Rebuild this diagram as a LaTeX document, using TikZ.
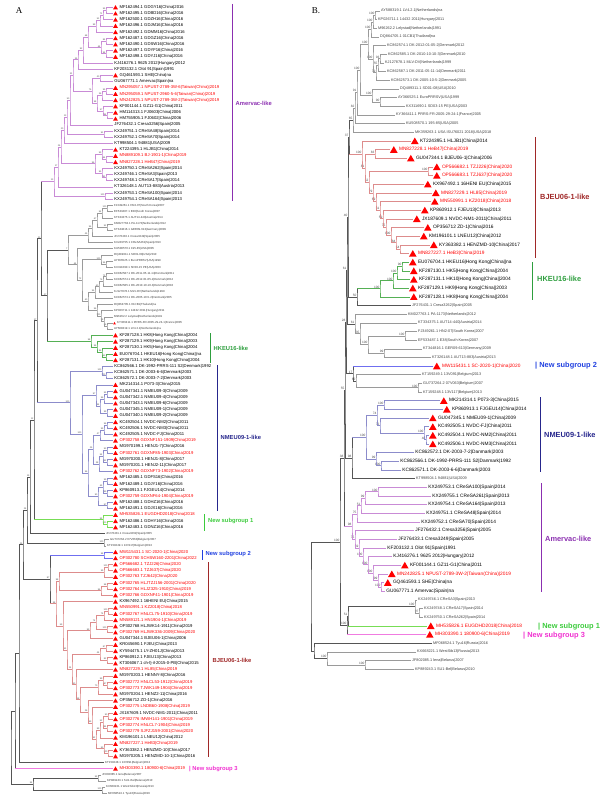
\documentclass[tikz,border=0pt]{standalone}
\usepackage{fontspec}
\setmainfont{Liberation Sans}
\newfontfamily\panelfont{Liberation Serif}
\usetikzlibrary{shapes.geometric,calc}

\definecolor{bb}{HTML}{555555}
\definecolor{grL}{HTML}{9A9A9A}
\definecolor{amerL}{HTML}{C98BD6}
\definecolor{amerD}{HTML}{8B2FB0}
\definecolor{hkL}{HTML}{55B055}
\definecolor{hkD}{HTML}{2E9E3E}
\definecolor{nmL}{HTML}{8C8CCB}
\definecolor{nmD}{HTML}{26268C}
\definecolor{s1L}{HTML}{77DD55}
\definecolor{s1D}{HTML}{3CCB3C}
\definecolor{s2L}{HTML}{6F6FF0}
\definecolor{s2D}{HTML}{2040E0}
\definecolor{bjL}{HTML}{DD8C8C}
\definecolor{bjD}{HTML}{A02828}
\definecolor{s3L}{HTML}{F07BE0}
\definecolor{s3D}{HTML}{F030D0}

\tikzset{
  br/.style={line width=0.45pt},
  bar/.style={line width=0.9pt},
  clabA/.style={anchor=west, inner sep=0pt, font=\bfseries\fontsize{5.8}{5.8}\selectfont},
  clabB/.style={anchor=west, inner sep=0pt, font=\bfseries\fontsize{7.4}{7.4}\selectfont}
}

% join two children (named) into a new inner node at x = #3
\newcommand\jn[6][bb]{%
  \path let \p1=(#4), \p2=(#5) in coordinate (#2) at (#3,{0.5*(\y1+\y2)});
  \draw[br,#1] (#4) -| (#2) |- (#5);
  \node[bs] (#2b) at (#2) {#6};}
% one leaf: name, row, tip x, kind, text
\newcommand\lf[5]{%
  \coordinate (#1) at (#3,{\ys+\dy*(#2)});
  \csname lk#4\endcsname{#1}{#5}}
\newcommand\lktr[2]{\node[tri] (#1m) at (#1) {}; \node[labt,text=red] (#1t) at (#1) {#2};}
\newcommand\lktb[2]{\node[tri] (#1m) at (#1) {}; \node[labt] (#1t) at (#1) {#2};}
\newcommand\lknb[2]{\node[lab0] (#1t) at (#1) {#2};}
\newcommand\lksm[2]{\node[sml] (#1t) at (#1) {#2};}
\newcommand\lkst[2]{\node[tri,minimum size=3.2pt,xshift=-1pt] (#1m) at (#1) {}; \node[sml,xshift=3pt] (#1t) at (#1) {#2};}

\begin{document}
\begin{tikzpicture}[x=1pt,y=-1pt]
\useasboundingbox (0,0) rectangle (601,800);

\node[font=\panelfont\fontsize{9}{9}\selectfont] (panA) at (19,11) {A};
\node[font=\panelfont\fontsize{9}{9}\selectfont] (panB) at (316,11) {B.};

% ---------------- panel A ----------------
\begin{scope}[
  tri/.style={regular polygon, regular polygon sides=3, fill=red, draw=none, inner sep=0pt, minimum size=5.6pt, xshift=2.5pt, yshift=-0.6pt},
  labt/.style={anchor=west, inner sep=0pt, xshift=6.3pt, font=\fontsize{4.2}{4.2}\selectfont},
  lab0/.style={anchor=west, inner sep=0pt, xshift=1.2pt, font=\fontsize{4.2}{4.2}\selectfont},
  sml/.style={anchor=west, inner sep=0pt, xshift=1pt, font=\fontsize{2.9}{2.9}\selectfont, text=black!75},
  bs/.style={anchor=south east, inner sep=0.3pt, font=\fontsize{2.3}{2.3}\selectfont, text=black!70}]
\def\ys{7.3}\def\dy{6.19}
\foreach \r/\x/\k/\txt in {
0/113/tb/{MF162494.1 GDGY16|China|2016},
1/113/tb/{MF162495.1 GDBD16|China|2016},
2/113/tb/{MF162500.1 GDZH16|China|2016},
3/113/tb/{MF162496.1 GDJM16|China|2016},
4/113/tb/{MF162492.1 GDMM16|China|2016},
5/113/tb/{MF162487.1 GDGZ16|China|2016},
6/113/tb/{MF162490.1 GDSW16|China|2016},
7/113/tb/{MF162497.1 GDYF16|China|2016},
8/113/tb/{MF162498.1 GDYJ16|China|2016},
9/113/nb/{KJ416276.1 9625 2012|Hungary|2012},
10/113/nb/{KF203132.1 Olot 91|Spain|1991},
11/113/tb/{GQ461593.1 SHE|China|na},
12/113/nb/{GU067771.1 Amervac|Spain|na},
13/113/tr/{MN295057.1 NPUST-2789-3W-6|Taiwan(China)|2019},
14/113/tr/{MN295059.1 NPUST-2960-5-6|Taiwan(China)|2019},
15/113/tr/{MN242825.1 NPUST-2789-3W-2|Taiwan(China)|2019},
16/113/tb/{KF001144.1 GZ11-G1|China|2011},
17/113/tb/{HM114313.1 FJ0603|China|2006},
18/113/tb/{HM755905.1 FJ0602|China|2006},
19/113/nb/{JF276432.1 Cresa3256|Spain|2005},
20/113/nb/{KX249751.1 CReSA48|Spain|2014},
21/113/nb/{KX249752.1 CReSA70|Spain|2014},
22/113/nb/{KT998504.1 94881|USA|2009},
23/113/tb/{KT224395.1 HLJB1|China|2014},
24/113/tr/{MN889109.1 BJ-1901-1|China|2019},
25/113/tr/{MN827228.1 HeB47|China|2019},
26/113/nb/{KX249750.1 CReSA262|Spain|2014},
27/113/nb/{KX249746.1 CReSA3|Spain|2013},
28/113/nb/{KX249748.1 CReSA17|Spain|2014},
29/113/nb/{KT326148.1 AUT13-883|Austria|2013},
30/113/nb/{KX249753.1 CReSA100|Spain|2014},
31/113/nb/{KX249754.1 CReSA164|Spain|2013},
32/113/sm/{FJ349261.1 HN2-07|South Korea|2007},
33/113/sm/{EF533487.1 E38|South Korea|2007},
34/113/sm/{KT334375.1 AUT14-440|Austria|2014},
35/113/sm/{KM027763.1 PA-1173|Netherlands|2012},
36/113/sm/{KT344816.1 GER09-613|Germany|2009},
37/113/sm/{JF276433.1 Cresa3249|Spain|2005},
38/113/sm/{KX249755.1 CReSA261|Spain|2013},
39/113/sm/{KU508570.1 195-85|USA|2005},
40/113/sm/{DQ489311.1 SD01-08|USA|2010},
41/113/sm/{AY366525.1 EuroPRRSV|USA|1999},
42/113/sm/{KX311690.1 SD03-15 PE|USA|2003},
43/113/sm/{KC862587.1 DK-2011-05-11-14|Denmark|2011},
44/113/sm/{KC862574.1 DK-2012-01-05-2|Denmark|2012},
45/113/sm/{KC862585.1 DK-2010-10-10-3|Denmark|2010},
46/113/sm/{KJ127878.1 MLV-DV|Netherlands|1999},
47/113/sm/{KC862573.1 DK-2005-10-5-2|Denmark|2005},
48/113/sm/{DQ864705.1 01CB1|Thailand|na},
49/113/sm/{KP026711.1 14432 2011|Hungary|2011},
50/113/sm/{M96262.2 Lelystad|Netherlands|1991},
51/113/st/{KY366411.1 PRRS-FR-2005-29-24-1|France|2005},
52/113/sm/{AY588319.1 LV4.2.1|Netherlands|na},
53/113/tb/{KF287128.1 HK8|Hong Kong|China||2004},
54/113/tb/{KF287129.1 HK9|Hong Kong|China||2003},
55/113/tb/{KF287130.1 HK5|Hong Kong|China||2004},
56/113/tb/{EU076704.1 HKEU16|Hong Kong|China||na},
57/113/tb/{KF287131.1 HK10|Hong Kong|China||2004},
58/113/nb/{KC862566.1 DK-1992-PRRS-111 S2|Denmark|1992},
59/113/nb/{KC862571.1 DK-2003-6-6|Denmark|2003},
60/113/nb/{KC862572.1 DK-2003-7-2|Denmark|2003},
61/113/tb/{MK214314.1 P073-3|China|2015},
62/113/tb/{GU047341.1 NMEU09-3|China|2009},
63/113/tb/{GU047342.1 NMEU09-4|China|2009},
64/113/tb/{GU047343.1 NMEU09-6|China|2009},
65/113/tb/{GU047345.1 NMEU09-1|China|2009},
66/113/tb/{GU047340.1 NMEU09-2|China|2009},
67/113/tb/{KC492504.1 NVDC-NM2|China|2011},
68/113/tb/{KC492506.1 NVDC-NM3|China|2011},
69/113/tb/{KC492505.1 NVDC-FJ|China|2011},
70/113/tr/{OP302758 GDXNF151-1909|China|2019},
71/113/tb/{MG970199.1 HENJ1-7|China|2016},
72/113/tr/{OP302761 GDXNF85-1903|China|2019},
73/113/tb/{MG970200.1 HENJ1-8|China|2017},
74/113/tb/{MG970201.1 HENJ2-11|China|2017},
75/113/tr/{OP302762 GDXNF73-1902|China|2019},
76/113/tb/{MF162485.1 GDFS16|China|2016},
77/113/tb/{MF162489.1 GDJY16|China|2016},
78/113/tb/{KP860913.1 FJGEU14|China|2014},
79/113/tr/{OP302759 GDXNF64-1904|China|2019},
80/113/tb/{MF162488.1 GDHZ16|China|2016},
81/113/tb/{MF162491.1 GDJX16|China|2016},
82/113/tr/{MH535826.1 EUGDHD2018|China|2018},
83/113/tb/{MF162486.1 GDHY16|China|2016},
84/113/tb/{MF162483.1 GDNZ16|China|2016},
85/105/sm/{JF276431.1 Cresa3262|Spain|2005},
86/109/sm/{GU737264.2 07V063|Belgium|2007},
87/106/sm/{KT159249.1 13V117|Belgium|2013},
88/113/tr/{MW115431.1 SC-2020-1|China|2020},
89/113/tr/{OP302780 SCHSW160-2201|China|2022},
90/113/tr/{OP566682.1 TZJ226|China|2020},
91/113/tr/{OP566683.1 TZJ637|China|2020},
92/113/tr/{OP302763 TZJ642|China|2020},
93/113/tr/{OP302765 HLJTZJ156-2001|China|2020},
94/113/tr/{OP302764 HLJZ325-1910|China|2019},
95/113/tr/{OP302766 GDXNF41-1901|China|2019},
96/113/tb/{KX967492.1 16HENI EU|China|2015},
97/113/tr/{MN550991.1 KZ2018|China|2018},
98/113/tr/{OP302767 HNLCL75-1910|China|2019},
99/113/tr/{MN589121.1 HN1904-1|China|2019},
100/113/tb/{OP302768 HLJWK14-1911|China|2019},
101/113/tr/{OP302769 HLJWK336-2009|China|2020},
102/113/tb/{GU047344.1 BJEU06-1|China|2006},
103/113/tb/{KR045690.1 FJEU|China|2013},
104/113/tb/{KY594475.1 LY-ZH01J|China|2013},
105/113/tb/{KP860912.1 FJEU13|China|2013},
106/113/tb/{KT306067.1 ch-fj-il-2015-0-PB|China|2015},
107/113/tr/{MN827229.1 HL85|China|2019},
108/113/tb/{MG970203.1 HENNY-8|China|2016},
109/113/tr/{OP302772 HNLCL53-1912|China|2019},
110/113/tr/{OP302773 TJWK149-1904|China|2019},
111/113/tb/{MG970204.1 HENZ2-11|China|2016},
112/113/tb/{OP356712 ZD-1|China|2016},
113/113/tr/{OP302775 LNDB60-1908|China|2019},
114/113/tb/{JX187609.1 NVDC-NM1-2011|China|2011},
115/113/tr/{OP302776 IMWH141-1901|China|2019},
116/113/tr/{OP302774 HNLCL7-1904|China|2019},
117/113/tr/{OP302779 SJFZJ159-2001|China|2020},
118/113/tb/{KM196101.1 LNEU12|China|2012},
119/113/tr/{MN827227.1 HeB3|China|2019},
120/113/tb/{KY363382.1 HENZMD-10|China|2017},
121/113/tb/{MG970205.1 HENZMD-10-1|China|2016},
122/104/sm/{KT159248.1 13V091|Belgium|2013},
123/113/tr/{MH303390.1 180900-6|China|2019},
124/101/sm/{JF802085.1 lena|Belarus|2007},
125/106/sm/{KP889243.1 SU1-Bel|Belarus|2010},
126/105/sm/{KX668221.1 WestSib13|Russia|2013},
127/107/sm/{MF068524.1 Tyu16|Russia|2016}}{\lf{a\r}{\r}{\x}{\k}{\txt}}

% Amervac-like
\jn[amerL]{A0x1}{106}{a0}{a1}{95}
\jn[amerL]{A0x2}{103}{A0x1}{a2}{71}
\jn[amerL]{A0x3}{100}{A0x2}{a3}{51}
\jn[amerL]{A0x4}{96}{A0x3}{a4}{99}
\jn[amerL]{A5x6}{106}{a5}{a6}{84}
\jn[amerL]{A7x8}{106}{a7}{a8}{94}
\jn[amerL]{A5x8}{101}{A5x6}{A7x8}{64}
\jn[amerL]{A0x8}{88}{A0x4}{A5x8}{68}
\jn[amerL]{A0x9}{83}{A0x8}{a9}{92}
\jn[amerL]{A0x10}{78}{A0x9}{a10}{35}
\jn[amerL]{A11x12}{100}{a11}{a12}{40}
\jn[amerL]{A13x14}{106}{a13}{a14}{95}
\jn[amerL]{A13x15}{102}{A13x14}{a15}{36}
\jn[amerL]{A17x18}{107}{a17}{a18}{94}
\jn[amerL]{A16x18}{103}{a16}{A17x18}{57}
\jn[amerL]{A13x18}{97}{A13x15}{A16x18}{98}
\jn[amerL]{A11x18}{92}{A11x12}{A13x18}{75}
\jn[amerL]{A0x18}{73}{A0x10}{A11x18}{31}
\jn[amerL]{A0x19}{70}{A0x18}{a19}{50}
\jn[amerL]{A20x21}{104}{a20}{a21}{91}
\jn[amerL]{A0x21}{67}{A0x19}{A20x21}{13}
\jn[amerL]{A0x22}{64}{A0x21}{a22}{20}
\jn[amerL]{A24x25}{106}{a24}{a25}{94}
\jn[amerL]{A23x25}{102}{a23}{A24x25}{99}
\jn[amerL]{A27x28}{106}{a27}{a28}{91}
\jn[amerL]{A26x28}{102}{a26}{A27x28}{95}
\jn[amerL]{A23x28}{95}{A23x25}{A26x28}{96}
\jn[amerL]{A0x28}{61}{A0x22}{A23x28}{26}
\jn[amerL]{A0x29}{58}{A0x28}{a29}{17}
\jn[amerL]{A30x31}{105}{a30}{a31}{100}
\jn[amerL]{Aam}{54}{A0x29}{A30x31}{13}
% grey European strains
\jn[grL]{A32x33}{107}{a32}{a33}{100}
\jn[grL]{A32x34}{102}{A32x33}{a34}{94}
\jn[grL]{A35x36}{107}{a35}{a36}{92}
\jn[grL]{A32x36}{97}{A32x34}{A35x36}{67}
\jn[grL]{A32x37}{92}{A32x36}{a37}{96}
\jn[grL]{A32x38}{88}{A32x37}{a38}{45}
\jn[grL]{A41x42}{106}{a41}{a42}{96}
\jn[grL]{A40x42}{101}{a40}{A41x42}{100}
\jn[grL]{A43x44}{106}{a43}{a44}{72}
\jn[grL]{A43x45}{103}{A43x44}{a45}{76}
\jn[grL]{A43x46}{99}{A43x45}{a46}{60}
\jn[grL]{A43x47}{95}{A43x46}{a47}{96}
\jn[grL]{A51x52}{107}{a51}{a52}{96}
\jn[grL]{A50x52}{104}{a50}{A51x52}{98}
\jn[grL]{A49x52}{101}{a49}{A50x52}{100}
\jn[grL]{A48x52}{97}{a48}{A49x52}{96}
\jn[grL]{A43x52}{88}{A43x47}{A48x52}{60}
\jn[grL]{A40x52}{82}{A40x42}{A43x52}{72}
\jn[grL]{A39x52}{77}{a39}{A40x52}{64}
\jn[grL]{Ag1}{68}{A32x38}{A39x52}{7}
% HKEU16-like
\jn[hkL]{A56x57}{106}{a56}{a57}{53}
\jn[hkL]{A55x57}{102}{a55}{A56x57}{96}
\jn[hkL]{A54x57}{97}{a54}{A55x57}{96}
\jn[hkL]{Ahk}{91}{a53}{A54x57}{98}
\jn{Agh}{47}{Ag1}{Ahk}{27}
\jn{AB1}{41}{Aam}{Agh}{23}
% NMEU09-1-like
\jn[nmL]{A59x60}{106}{a59}{a60}{100}
\jn[nmL]{A58x60}{102}{a58}{A59x60}{100}
\jn[nmL]{A62x63}{107}{a62}{a63}{95}
\jn[nmL]{A62x64}{104}{A62x63}{a64}{96}
\jn[nmL]{A65x66}{107}{a65}{a66}{99}
\jn[nmL]{A62x66}{100}{A62x64}{A65x66}{94}
\jn[nmL]{A61x66}{96}{a61}{A62x66}{97}
\jn[nmL]{A67x68}{107}{a67}{a68}{96}
\jn[nmL]{A67x69}{104}{A67x68}{a69}{99}
\jn[nmL]{A67x70}{100}{A67x69}{a70}{47}
\jn[nmL]{A71x72}{107}{a71}{a72}{93}
\jn[nmL]{A73x74}{107}{a73}{a74}{92}
\jn[nmL]{A71x74}{103}{A71x72}{A73x74}{54}
\jn[nmL]{A71x75}{99}{A71x74}{a75}{38}
\jn[nmL]{A67x75}{93}{A67x70}{A71x75}{25}
\jn[nmL]{A76x77}{107}{a76}{a77}{99}
\jn[nmL]{A78x79}{107}{a78}{a79}{99}
\jn[nmL]{A76x79}{103}{A76x77}{A78x79}{65}
\jn[nmL]{A80x81}{107}{a80}{a81}{97}
\jn[nmL]{A76x81}{98}{A76x79}{A80x81}{90}
\jn[nmL]{A67x81}{88}{A67x75}{A76x81}{96}
\jn[nmL]{A61x81}{82}{A61x66}{A67x81}{100}
\jn[nmL]{Anm}{70}{A58x60}{A61x81}{100}
\jn{AB2}{37}{AB1}{Anm}{17}
% new subgroup 1
\jn[s1L]{A83x84}{107}{a83}{a84}{100}
\jn[s1L]{Ans1}{103}{a82}{A83x84}{99}
\jn{AB3}{34}{AB2}{Ans1}{12}
\jn{AB4}{30}{AB3}{a85}{19}
\jn[grL]{A86x87}{104}{a86}{a87}{100}
\jn{AB5}{27}{AB4}{A86x87}{24}
% new subgroup 2
\jn[s2L]{Ans2}{104}{a88}{a89}{98}
% BJEU06-1-like
\jn[bjL]{A90x91}{108}{a90}{a91}{100}
\jn[bjL]{A90x92}{104}{A90x91}{a92}{99}
\jn[bjL]{A93x94}{107}{a93}{a94}{98}
\jn[bjL]{A93x95}{101}{A93x94}{a95}{96}
\jn[bjL]{A90x95}{59}{A90x92}{A93x95}{98}
\jn[bjL]{A97x98}{108}{a97}{a98}{100}
\jn[bjL]{A97x99}{104}{A97x98}{a99}{74}
\jn[bjL]{A100x101}{107}{a100}{a101}{100}
\jn[bjL]{A97x101}{96}{A97x99}{A100x101}{74}
\jn[bjL]{A97x102}{90}{A97x101}{a102}{99}
\jn[bjL]{A103x104}{106}{a103}{a104}{87}
\jn[bjL]{A105x106}{107}{a105}{a106}{82}
\jn[bjL]{A103x106}{100}{A103x104}{A105x106}{44}
\jn[bjL]{A109x110}{107}{a109}{a110}{97}
\jn[bjL]{A108x110}{103}{a108}{A109x110}{99}
\jn[bjL]{A108x111}{98}{A108x110}{a111}{70}
\jn[bjL]{A114x115}{108}{a114}{a115}{90}
\jn[bjL]{A116x117}{107}{a116}{a117}{84}
\jn[bjL]{A114x117}{103}{A114x115}{A116x117}{52}
\jn[bjL]{A114x118}{100}{A114x117}{a118}{89}
\jn[bjL]{A120x121}{108}{a120}{a121}{100}
\jn[bjL]{A119x121}{104}{a119}{A120x121}{93}
\jn[bjL]{A114x121}{96}{A114x118}{A119x121}{62}
\jn[bjL]{A113x121}{92}{a113}{A114x121}{69}
\jn[bjL]{A112x121}{88}{a112}{A113x121}{26}
\jn[bjL]{A108x121}{80}{A108x111}{A112x121}{58}
\jn[bjL]{A107x121}{76}{a107}{A108x121}{50}
\jn[bjL]{A103x121}{72}{A103x106}{A107x121}{24}
\jn[bjL]{A97x121}{67}{A97x102}{A103x121}{51}
\jn[bjL]{A96x121}{63}{a96}{A97x121}{59}
\jn[bjL]{Abj}{56}{A90x95}{A96x121}{98}
\jn{ANB}{50}{Ans2}{Abj}{87}
\jn{AB6}{23}{AB5}{ANB}{25}
\jn{AB7}{19}{AB6}{a122}{}
\jn{AB8}{15}{AB7}{a123}{}
% outgroup
\jn[grL]{A124x125}{98}{a124}{a125}{99}
\jn[grL]{A126x127}{102}{a126}{a127}{100}
\jn{Aog}{33}{A124x125}{A126x127}{94}
\jn{Aroot}{11}{AB8}{Aog}{}
% coloured stems
\draw[br,amerL] (Aam) -- (Aam -| AB1);
\draw[br,hkL] (Ahk) -- (Ahk -| Agh);
\draw[br,nmL] (Anm) -- (Anm -| AB2);
\draw[br,s1L] (Ans1) -- (Ans1 -| AB3);
\draw[br,s2L] (Ans2) -- (Ans2 -| ANB);
\draw[br,bjL] (Abj) -- (Abj -| ANB);
\draw[br,s3L] (a123) -- (a123 -| AB8);
% clade bars
\draw[bar,amerD] (232,4) -- (232,201);
\node[clabA,text=amerD] (gAmA) at (235.5,103) {Amervac-like};
\draw[bar,hkD] (210,333) -- (210,363);
\node[clabA,text=hkD] (gHkA) at (213.5,348) {HKEU16-like};
\draw[bar,nmD] (217,365) -- (217,511);
\node[clabA,text=nmD] (gNmA) at (220.5,437) {NMEU09-1-like};
\draw[bar,s1D] (204,514) -- (204,531);
\node[clabA,text=s1D] (gS1A) at (208,521) {New subgroup 1};
\draw[bar,s2D] (202,550) -- (202,560);
\node[clabA,text=s2D] (gS2A) at (205.5,554) {New subgroup 2};
\draw[bar,bjD] (208,562) -- (208,757);
\node[clabA,text=bjD] (gBjA) at (212.5,660) {BJEU06-1-like};
\node[clabA,text=s3D] (gS3A) at (189,769) {| New subgroup 3};
\end{scope}

% ---------------- panel B ----------------
\begin{scope}[
  tri/.style={regular polygon, regular polygon sides=3, fill=red, draw=none, inner sep=0pt, minimum size=8.8pt, xshift=3.8pt, yshift=-1pt},
  labt/.style={anchor=west, inner sep=0pt, xshift=8.8pt, font=\fontsize{4.8}{4.8}\selectfont},
  lab0/.style={anchor=west, inner sep=0pt, xshift=1.2pt, font=\fontsize{4.8}{4.8}\selectfont},
  sml/.style={anchor=west, inner sep=0pt, xshift=1pt, font=\fontsize{3.8}{3.8}\selectfont, text=black!75},
  bs/.style={anchor=south east, inner sep=0.3pt, font=\fontsize{3.2}{3.2}\selectfont, text=black!70}]
\def\ys{11}\def\dy{8.66}
\foreach \r/\x/\k/\txt in {
0/380/sm/{AY588319.1 LV4.2.1|Netherlands|na},
1/377/sm/{KP026711.1 14432 2011|Hungary|2011},
2/377/sm/{M96262.2 Lelystad|Netherlands|1991},
3/379/sm/{DQ864705.1 01CB1|Thailand|na},
4/386/sm/{KC862574.1 DK-2012-01-05-2|Denmark|2012},
5/387/sm/{KC862585.1 DK-2010-10-10-3|Denmark|2010},
6/384/sm/{KJ127878.1 MLV-DV|Netherlands|1999},
7/386/sm/{KC862587.1 DK-2011-05-11-14|Denmark|2011},
8/390/sm/{KC862573.1 DK-2005-10-5-2|Denmark|2005},
9/399/sm/{DQ489311.1 SD01-08|USA|2010},
10/397/sm/{AY366525.1 EuroPRRSV|USA|1999},
11/405/sm/{KX311690.1 SD03-15 PE|USA|2003},
12/395/sm/{KY366411.1 PRRS-FR-2005-29-24-1|France|2005},
13/405/sm/{KU508570.1 195-85|USA|2005},
14/414/sm/{MK359263.1 USA ISU76021 2018|USA|2018},
15/411/tb/{KT224395.1 HLJB1|China|2014},
16/390/tr/{MN827228.1 HeB47|China|2019},
17/407/tb/{GU047344.1 BJEU06-1|China|2006},
18/433/tr/{OP566682.1 TZJ226|China|2020},
19/433/tr/{OP566683.1 TZJ637|China|2020},
20/424/tb/{KX967492.1 16HENI EU|China|2015},
21/432/tr/{MN827229.1 HL85|China|2019},
22/431/tr/{MN550991.1 KZ2018|China|2018},
23/421/tb/{KP860912.1 FJEU13|China|2013},
24/413/tb/{JX187609.1 NVDC-NM1-2011|China|2011},
25/424/tb/{OP356712 ZD-1|China|2016},
26/420/tb/{KM196101.1 LNEU12|China|2012},
27/430/tb/{KY363382.1 HENZMD-10|China|2017},
28/409/tr/{MN827227.1 HeB3|China|2019},
29/409/tb/{EU076704.1 HKEU16|Hong Kong|China||na},
30/410/tb/{KF287130.1 HK5|Hong Kong|China||2004},
31/410/tb/{KF287131.1 HK10|Hong Kong|China||2004},
32/409/tb/{KF287129.1 HK9|Hong Kong|China||2003},
33/410/tb/{KF287128.1 HK8|Hong Kong|China||2004},
34/411/sm/{JF276431.1 Cresa3262|Spain|2005},
35/407/sm/{KM027763.1 PA-1173|Netherlands|2012},
36/417/sm/{KT334375.1 AUT14-440|Austria|2014},
37/417/sm/{FJ349261.1 HN2-07|South Korea|2007},
38/417/sm/{EF533487.1 E38|South Korea|2007},
39/422/sm/{KT344816.1 GER09-613|Germany|2009},
40/431/sm/{KT326148.1 AUT13-883|Austria|2013},
41/433/tr/{MW115431.1 SC-2020-1|China|2020},
42/421/sm/{KT159249.1 13V091|Belgium|2013},
43/422/sm/{GU737264.2 07V063|Belgium|2007},
44/422/sm/{KT159248.1 13V117|Belgium|2013},
45/440/tb/{MK214314.1 P073-3|China|2015},
46/443/tb/{KP860913.1 FJGEU14|China|2014},
47/429/tb/{GU047345.1 NMEU09-1|China|2009},
48/429/tb/{KC492505.1 NVDC-FJ|China|2011},
49/429/tb/{KC492504.1 NVDC-NM2|China|2011},
50/429/tb/{KC492506.1 NVDC-NM3|China|2011},
51/414/nb/{KC862572.1 DK-2003-7-2|Danmark|2003},
52/399/nb/{KC862566.1 DK-1992-PRRS-111 S2|Danmark|1992},
53/401/nb/{KC862571.1 DK-2003-6-6|Danmark|2003},
54/415/sm/{KT998504.1 94881|USA|2009},
55/427/nb/{KX249753.1 CReSA100|Spain|2014},
56/431/nb/{KX249755.1 CReSA261|Spain|2013},
57/427/nb/{KX249754.1 CReSA164|Spain|2013},
58/425/nb/{KX249751.1 CReSA48|Spain|2014},
59/420/nb/{KX249752.1 CReSA70|Spain|2014},
60/414/nb/{JF276432.1 Cresa3256|Spain|2005},
61/397/nb/{JF276433.1 Cresa3249|Spain|2005},
62/386/nb/{KF203132.1 Olot 91|Spain|1991},
63/392/nb/{KJ416276.1 9625 2012|Hungary|2012},
64/401/tb/{KF001144.1 GZ11-G1|China|2011},
65/388/tr/{MN242825.1 NPUST-2789-3W-2|Taiwan(China)|2019},
66/384/tb/{GQ461593.1 SHE|China|na},
67/385/nb/{GU067771.1 Amervac|Spain|na},
68/417/sm/{KX249746.1 CReSA3|Spain|2013},
69/423/sm/{KX249748.1 CReSA17|Spain|2014},
70/423/sm/{KX249750.1 CReSA262|Spain|2014},
71/427/tr/{MH535826.1 EUGDHD2018|China|2018},
72/426/tr/{MH303390.1 180900-6|China|2019},
73/432/sm/{MF068524.1 Tyu16|Russia|2016},
74/416/sm/{KX668221.1 WestSib13|Russia|2013},
75/411/sm/{JF802085.1 lena|Belarus|2007},
76/414/sm/{KP889243.1 SU1-Bel|Belarus|2010}}{\lf{b\r}{\r}{\x}{\k}{\txt}}

% grey European strains (top)
\jn[grL]{BT0x1}{375}{b0}{b1}{100}
\jn[grL]{BT0x2}{373}{BT0x1}{b2}{100}
\jn[grL]{BT0x3}{371}{BT0x2}{b3}{100}
\jn[grL]{BT5x6}{380}{b5}{b6}{93}
\jn[grL]{BT5x7}{378}{BT5x6}{b7}{55}
\jn[grL]{BT5x8}{376}{BT5x7}{b8}{79}
\jn[grL]{BT4x8}{373}{b4}{BT5x8}{100}
\jn[grL]{BT0x8}{368}{BT0x3}{BT4x8}{100}
\jn[grL]{BT10x11}{380}{b10}{b11}{90}
\jn[grL]{BT9x11}{372}{b9}{BT10x11}{100}
\jn[grL]{BT0x11}{360}{BT0x8}{BT9x11}{100}
\jn[grL]{BT0x12}{357}{BT0x11}{b12}{91}
\jn[grL]{BT0x13}{355}{BT0x12}{b13}{82}
\jn[grL]{BT0x14}{353}{BT0x13}{b14}{65}
% BJEU06-1-like
\jn[bjL]{BJ16x17}{375}{b16}{b17}{83}
\jn[bjL]{BJ18x19}{428}{b18}{b19}{100}
\jn[bjL]{BJ27x28}{400}{b27}{b28}{54}
\jn[bjL]{BJ26x28}{396}{b26}{BJ27x28}{84}
\jn[bjL]{BJ25x28}{391}{b25}{BJ26x28}{100}
\jn[bjL]{BJ24x28}{386}{b24}{BJ25x28}{75}
\jn[bjL]{BJ23x28}{383}{b23}{BJ24x28}{59}
\jn[bjL]{BJ22x28}{380}{b22}{BJ23x28}{61}
\jn[bjL]{BJ21x28}{376}{b21}{BJ22x28}{69}
\jn[bjL]{BJ20x28}{373}{b20}{BJ21x28}{79}
\jn[bjL]{BJ18x28}{369}{BJ18x19}{BJ20x28}{52}
\jn[bjL]{BJ16x28}{365}{BJ16x17}{BJ18x28}{81}
\jn[bjL]{Bbj}{362}{b15}{BJ16x28}{100}
% HKEU16-like
\jn[hkL]{BH29x30}{402}{b29}{b30}{90}
\jn[hkL]{BH29x31}{397}{BH29x30}{b31}{100}
\jn[hkL]{BH29x32}{393}{BH29x31}{b32}{100}
\jn[hkL]{Bhk}{380}{BH29x32}{b33}{100}
% grey (middle)
\jn[grL]{BG37x38}{405}{b37}{b38}{100}
\jn[grL]{BG39x40}{384}{b39}{b40}{99}
\jn[grL]{BG37x40}{368}{BG37x38}{BG39x40}{100}
\jn[grL]{BG36x40}{360}{b36}{BG37x40}{35}
\jn[grL]{BG35x40}{355}{b35}{BG36x40}{61}
\jn[grL]{BG43x44}{418}{b43}{b44}{100}
\jn[grL]{BG42x44}{356}{b42}{BG43x44}{60}
% NMEU09-1-like
\jn[nmL]{BN45x46}{384}{b45}{b46}{100}
\jn[nmL]{BN49x50}{426}{b49}{b50}{48}
\jn[nmL]{BN48x50}{424}{b48}{BN49x50}{100}
\jn[nmL]{BN47x50}{380}{b47}{BN48x50}{72}
\jn[nmL]{BN45x50}{377}{BN45x46}{BN47x50}{74}
\jn[nmL]{BN52x53}{381}{b52}{b53}{100}
\jn[nmL]{BN51x53}{376}{b51}{BN52x53}{99}
\jn[nmL]{Bnm}{366}{BN45x50}{BN51x53}{100}
% Amervac-like
\jn[amerL]{BA55x56}{378}{b55}{b56}{100}
\jn[amerL]{BA55x57}{365}{BA55x56}{b57}{99}
\jn[amerL]{BA55x58}{361}{BA55x57}{b58}{51}
\jn[amerL]{BA55x59}{357}{BA55x58}{b59}{75}
\jn[amerL]{BA66x67}{381}{b66}{b67}{100}
\jn[amerL]{BA65x67}{378}{b65}{BA66x67}{99}
\jn[amerL]{BA64x67}{373}{b64}{BA65x67}{100}
\jn[amerL]{BA63x67}{368}{b63}{BA64x67}{100}
\jn[amerL]{BA62x67}{363}{b62}{BA63x67}{100}
\jn[amerL]{BA61x67}{359}{b61}{BA62x67}{59}
\jn[amerL]{BA60x67}{355}{b60}{BA61x67}{75}
\jn[amerL]{Bam}{352}{BA55x59}{BA60x67}{98}
% grey (bottom) and outgroup
\jn[grL]{BG69x70}{419}{b69}{b70}{97}
\jn[grL]{BG68x70}{415}{b68}{BG69x70}{100}
\jn[grL]{BO75x76}{365}{b75}{b76}{100}
\jn[grL]{BO74x76}{327}{b74}{BO75x76}{100}
\jn{Bog}{314}{b73}{BO74x76}{}
% backbone
\jn{BK1}{349}{BT0x14}{Bbj}{37}
\jn{BHJ}{357}{Bhk}{b34}{50}
\jn{BK2}{348}{BK1}{BHJ}{40}
\jn{BK3}{347}{BK2}{BG35x40}{61}
\jn{BX41}{353}{b41}{BG42x44}{17}
\jn{BK4}{346}{BK3}{BX41}{28}
\jn{BY}{352}{Bnm}{b54}{98}
\jn{BK5}{345}{BK4}{BY}{55}
\jn{BK6}{344}{BK5}{Bam}{38}
\jn{BZ1}{348}{BG68x70}{b71}{51}
\jn{BZ2}{347}{BZ1}{b72}{100}
\jn{BK7}{340}{BK6}{BZ2}{100}
\jn{Broot}{311}{BK7}{Bog}{}
% coloured stems
\draw[br,bjL] (Bbj) -- (Bbj -| BK1);
\draw[br,hkL] (Bhk) -- (Bhk -| BHJ);
\draw[br,s2L] (b41) -- (b41 -| BX41);
\draw[br,nmL] (Bnm) -- (Bnm -| BY);
\draw[br,amerL] (Bam) -- (Bam -| BK6);
\draw[br,s1L] (b71) -- (b71 -| BZ1);
\draw[br,s3L] (b72) -- (b72 -| BZ2);
% clade bars
\draw[bar,bjD] (535,137) -- (535,258);
\node[clabB,text=bjD] (gBjB) at (540,197) {BJEU06-1-like};
\draw[bar,hkD] (532,262) -- (532,300);
\node[clabB,text=hkD] (gHkB) at (537,279) {HKEU16-like};
\node[clabB,text=s2D] (gS2B) at (535,366) {| New subgroup 2};
\draw[bar,nmD] (540,397) -- (540,472);
\node[clabB,text=nmD] (gNmB) at (544,435) {NMEU09-1-like};
\draw[bar,amerD] (541,483) -- (541,592);
\node[clabB,text=amerD] (gAmB) at (545,539) {Amervac-like};
\node[clabB,text=s1D] (gS1B) at (538,627) {| New subgroup 1};
\node[clabB,text=s3D] (gS3B) at (523,636) {| New subgroup 3};
\end{scope}
\end{tikzpicture}
\end{document}
